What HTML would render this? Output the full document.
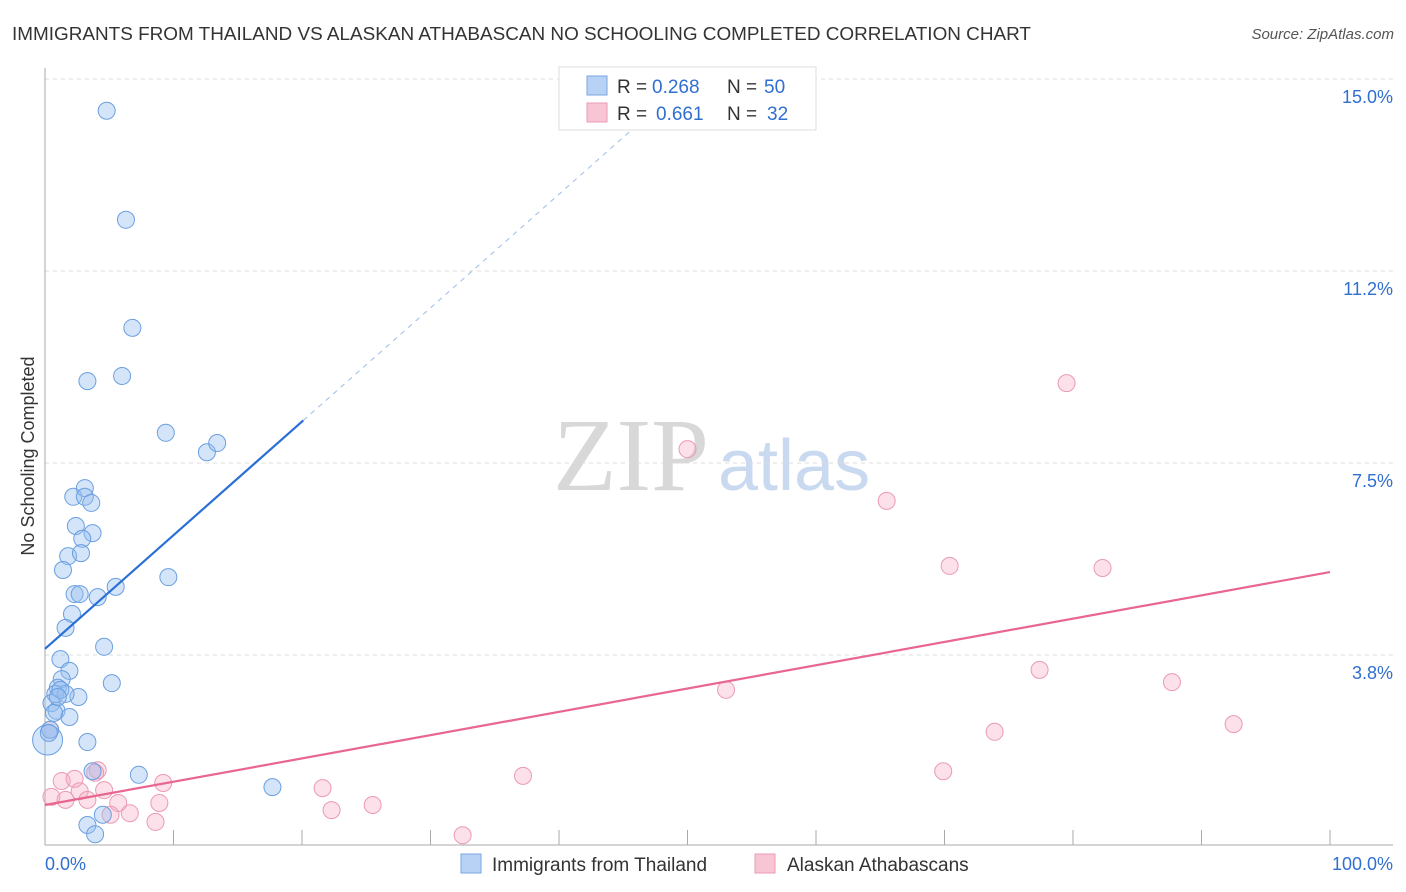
<!DOCTYPE html>
<html><head><meta charset="utf-8"><style>
body{margin:0;background:#fff;font-family:"Liberation Sans",sans-serif;}
svg{display:block}
</style></head><body>
<svg id="c" width="1406" height="892" xmlns="http://www.w3.org/2000/svg">
<text x="12" y="40" font-size="18" fill="#333" textLength="1019" lengthAdjust="spacingAndGlyphs">IMMIGRANTS FROM THAILAND VS ALASKAN ATHABASCAN NO SCHOOLING COMPLETED CORRELATION CHART</text>
<text x="1394" y="39" font-size="15" fill="#555" font-style="italic" text-anchor="end">Source: ZipAtlas.com</text>
<text x="553" y="490" font-size="104" fill="#d8d8d8" font-family="Liberation Serif,serif">ZIP</text>
<text x="718" y="490" font-size="72" fill="#c9d9ef">atlas</text>
<text transform="translate(34,456) rotate(-90)" font-size="18" fill="#333" text-anchor="middle">No Schooling Completed</text>
<g id="grid"></g><g id="marks"></g>
<g>
<rect x="559" y="67" width="257" height="63" fill="#fff" stroke="#ddd"/>
<rect x="587" y="76" width="20" height="19" fill="#b8d2f5" stroke="#7aa6e0"/>
<rect x="587" y="103" width="20" height="19" fill="#f8c5d4" stroke="#eb9ab3"/>
<text y="93" font-size="19" fill="#333"><tspan x="617">R =</tspan><tspan x="652" fill="#2f6fd0">0.268</tspan><tspan x="727">N =</tspan><tspan x="764" fill="#2f6fd0">50</tspan></text>
<text y="120" font-size="19" fill="#333"><tspan x="617">R =</tspan><tspan x="656" fill="#2f6fd0">0.661</tspan><tspan x="727">N =</tspan><tspan x="767" fill="#2f6fd0">32</tspan></text>
</g>
<g>
<rect x="461" y="854" width="20" height="19" fill="#b8d2f5" stroke="#7aa6e0"/>
<text x="492" y="871" font-size="19" fill="#333">Immigrants from Thailand</text>
<rect x="755" y="854" width="20" height="19" fill="#f8c5d4" stroke="#eb9ab3"/>
<text x="787" y="871" font-size="19" fill="#333">Alaskan Athabascans</text>
</g>
</svg>
<script>
const yTicks=[15,11.25,7.5,3.75];
const yTickLabels=["15.0%","11.2%","7.5%","3.8%"];
const xTickLabels=["0.0%","100.0%"];
const blueX=[4.8,6.3,6.8,3.3,6.0,9.4,12.6,13.4,2.2,3.1,3.1,3.6,2.4,3.7,2.9,1.8,2.8,1.4,2.3,2.7,4.1,5.5,9.6,2.1,1.6,4.6,1.2,1.9,1.3,5.2,1.0,0.8,2.6,1.6,0.5,0.9,1.9,0.2,0.4,3.3,3.7,7.3,17.7,4.5,3.3,3.9,1.2,0.7,0.3,1.0];
const blueY=[14.38,12.25,10.14,9.10,9.20,8.09,7.71,7.89,6.84,7.01,6.84,6.72,6.27,6.13,6.02,5.68,5.74,5.41,4.94,4.94,4.88,5.08,5.27,4.55,4.28,3.91,3.67,3.44,3.28,3.20,3.11,2.99,2.93,2.99,2.81,2.66,2.54,2.09,2.29,2.05,1.48,1.41,1.17,0.63,0.43,0.25,3.07,2.62,2.23,2.93];
const pinkX=[79.5,50.0,65.5,70.4,82.3,77.4,53.0,87.7,73.9,92.5,69.9,37.2,4.1,1.3,2.3,9.2,0.5,1.6,2.7,3.3,4.6,5.7,8.9,21.6,22.3,25.5,5.1,6.6,8.6,32.5,0.4,3.9];
const pinkY=[9.06,7.77,6.76,5.49,5.45,3.46,3.07,3.22,2.25,2.40,1.48,1.39,1.50,1.29,1.33,1.25,0.98,0.92,1.09,0.92,1.11,0.86,0.86,1.15,0.72,0.82,0.63,0.66,0.49,0.23,2.29,1.45];
const blueLine=[3.87,0.222];
const pinkLine=[0.82,0.0455];
const NS="http://www.w3.org/2000/svg";
const X=v=>45+v*12.85, Y=v=>847-v*51.2;
function mk(p,t,a){const e=document.createElementNS(NS,t);for(const k in a)e.setAttribute(k,a[k]);p.appendChild(e);return e;}
const g=document.getElementById('grid'), m=document.getElementById('marks');
yTicks.forEach((t,i)=>{
 const l=mk(g,'line',{x1:45,x2:1393,y1:Y(t),y2:Y(t),stroke:'#ddd','stroke-dasharray':'4,4'});
 
 
 const tx=mk(g,'text',{x:1393,y:Y(t)+24,'font-size':18,fill:'#2f6fd0','text-anchor':'end'});tx.textContent=yTickLabels[i];
 
 
});
mk(g,'line',{x1:45,x2:45,y1:68,y2:845,stroke:'#aaa'});
mk(g,'line',{x1:45,x2:1393,y1:845,y2:845,stroke:'#aaa'});
for(let i=1;i<=10;i++){const t=mk(g,'line',{x1:X(i*10),x2:X(i*10),y1:830,y2:845,stroke:'#aaa'});
 
 }
[[0,'start',45],[100,'end',1393]].forEach((d,i)=>{const t=mk(g,'text',{x:d[2],y:870,'font-size':18,fill:'#2f6fd0','text-anchor':d[1]});t.textContent=xTickLabels[i];
 
 });
pinkX.forEach((x,i)=>{const c=mk(m,'circle',{cx:X(x),cy:Y(pinkY[i]),r:8.5,fill:'rgba(246,170,195,0.35)',stroke:'#eb9ab3','stroke-width':1});
 
 });
blueX.forEach((x,i)=>{const c=mk(m,'circle',{cx:X(x),cy:Y(blueY[i]),r:i==37?15:8.5,fill:'rgba(150,190,240,0.4)',stroke:'#6a9fe0','stroke-width':1});
 
 });
let l=mk(m,'line',{x1:X(0),y1:Y(blueLine[0]),x2:X(20.1),y2:Y(blueLine[0]+blueLine[1]*20.1),stroke:'#2a6fd6','stroke-width':2.2});


l=mk(m,'line',{x1:X(20.1),y1:Y(blueLine[0]+blueLine[1]*20.1),x2:X(45.5),y2:Y(blueLine[0]+blueLine[1]*45.5),stroke:'#9cbce8','stroke-width':1,'stroke-dasharray':'5,5'});


l=mk(m,'line',{x1:X(0),y1:Y(pinkLine[0]),x2:X(100),y2:Y(pinkLine[0]+pinkLine[1]*100),stroke:'#e8668f','stroke-width':2.2});


</script>
</body></html>
